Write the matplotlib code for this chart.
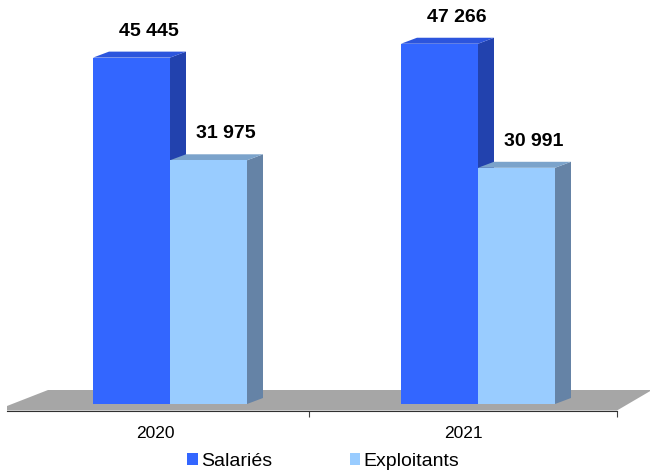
import matplotlib
matplotlib.use("Agg")
import matplotlib.pyplot as plt
from matplotlib.patches import Polygon, Patch

plt.rcParams['font.family'] = ['Liberation Sans', 'DejaVu Sans']

years = ['2020', '2021']
series = ['Salariés', 'Exploitants']
salaries = [45445, 47266]
exploitants = [31975, 30991]
value_labels = [['45 445', '47 266'], ['31 975', '30 991']]

# face colours: front, top, side
colors = {
    'Salariés': ('#3366FF', '#2C55DD', '#2242AE'),
    'Exploitants': ('#99CCFF', '#7BA3CB', '#6583A6'),
}

fig = plt.figure(figsize=(6.5, 4.71), dpi=100)
ax = fig.add_axes([0, 0, 1, 1])

# one category = 308 px wide, 1 px on y = 131.2 units
px_x = 1 / 308
px_y = 131.2
ax.set_xlim(-170 * px_x, 480 * px_x)
ax.set_ylim(-67 * px_y, 404 * px_y)

bar_w = 77 * px_x
dx = 16 * px_x
dy = 6 * px_y
shift = -15 * px_x  # floor front edge sits in front of the bars

# floor (top surface plus a thin front lip on the left)
floor_front = -6.5 * px_y
floor_lip = -2 * px_y
floor_back = 14 * px_y
floor = Polygon([(-163 * px_x, floor_front), (447 * px_x, floor_front),
                 (482 * px_x, floor_back), (-122 * px_x, floor_back),
                 (-163 * px_x, floor_lip)],
                closed=True, facecolor='#A6A6A6', edgecolor='none')
ax.add_patch(floor)


def bar3d(x0, h, name):
    front, top, side = colors[name]
    x1 = x0 + bar_w
    ax.add_patch(Polygon([(x1, 0), (x1 + dx, dy), (x1 + dx, h + dy), (x1, h)],
                         closed=True, facecolor=side, edgecolor='none'))
    ax.add_patch(Polygon([(x0, h), (x1, h), (x1 + dx, h + dy), (x0 + dx, h + dy)],
                         closed=True, facecolor=top, edgecolor='none'))
    ax.add_patch(Polygon([(x0, 0), (x1, 0), (x1, h), (x0, h)],
                         closed=True, facecolor=front, edgecolor='none'))


for i, year in enumerate(years):
    for j, (name, vals) in enumerate(zip(series, [salaries, exploitants])):
        x0 = i - bar_w + j * bar_w
        bar3d(x0, vals[i], name)
        ax.text(x0 + bar_w / 2 + 17 * px_x, vals[i] + 22 * px_y, value_labels[j][i],
                ha='center', va='baseline', fontsize=14, fontweight='bold')

# category axis along the floor front edge
for s in ['top', 'right', 'left']:
    ax.spines[s].set_visible(False)
ax.spines['bottom'].set_position(('data', floor_front))
ax.spines['bottom'].set_bounds(-163 * px_x, 447 * px_x)
ax.spines['bottom'].set_color('#303030')
ax.spines['bottom'].set_linewidth(0.8)
ax.set_yticks([])
ax.set_xticks([0.5 + shift, 1.5 + shift])
ax.set_xticklabels([])
ax.tick_params(axis='x', which='major', length=4, width=0.8, color='#404040', direction='out')
ax.set_xticks([i + shift for i in range(len(years))], minor=True)
ax.set_xticklabels(years, minor=True, fontsize=12.5)
ax.tick_params(axis='x', which='minor', length=0, pad=11)

handles = [Patch(facecolor=colors[n][0], edgecolor='none') for n in series]
fig.legend(handles, series, loc='center', bbox_to_anchor=(0.497, 0.021), ncol=2,
           frameon=False, fontsize=14, handlelength=0.55, handleheight=0.6,
           handletextpad=0.15, columnspacing=4.0, borderaxespad=0)

fig.savefig('out.png', dpi=100)
